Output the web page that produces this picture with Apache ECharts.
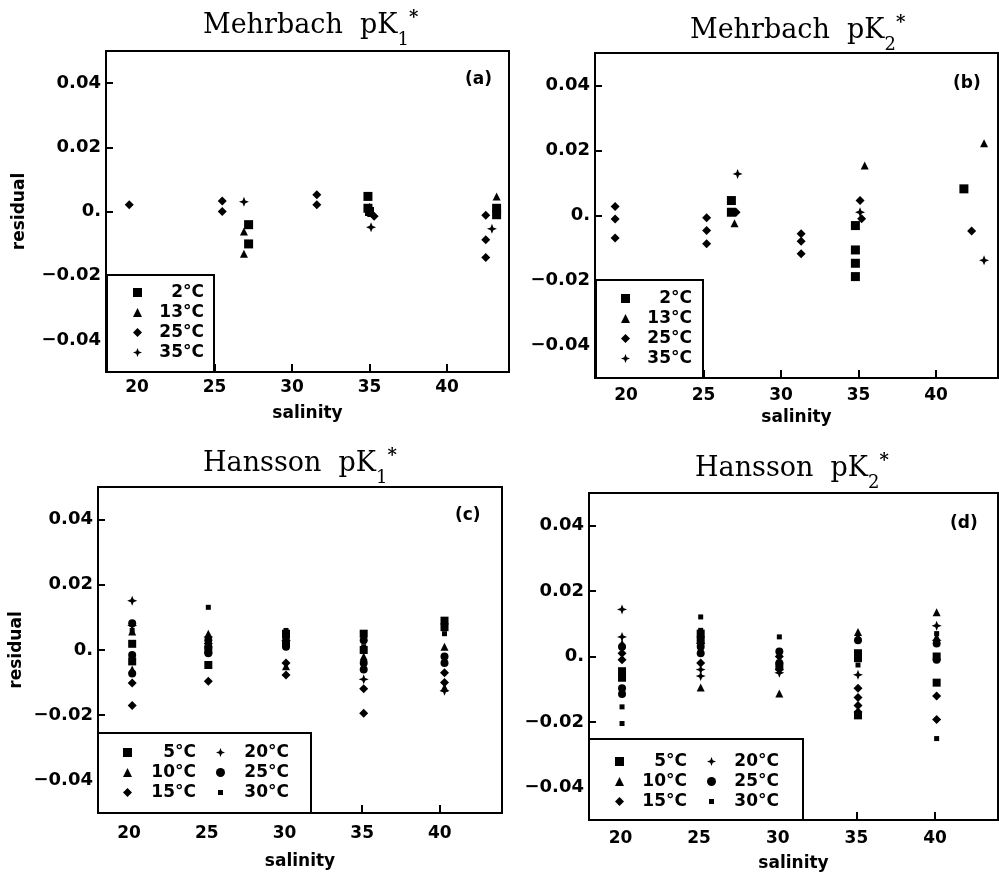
<!DOCTYPE html>
<html>
<head>
<meta charset="utf-8">
<title>Mehrbach / Hansson residuals</title>
<script src="https://cdn.jsdelivr.net/npm/echarts@6/dist/echarts.min.js"></script>
<style>
  html, body { margin: 0; padding: 0; background: #fff; }
  #chart { width: 999px; height: 885px; }
</style>
</head>
<body>
<div id="chart"></div>
<script>
// residual vs salinity
// each point is [salinity, residual]

// (a) Mehrbach pK1*
var a2C  = [[27.2, -0.0041], [27.2, -0.0101], [34.9, 0.0047], [34.9, 0.0010], [35.0, 0.0000], [43.2, 0.0010], [43.2, -0.0010]];
var a13C = [[26.9, -0.0062], [26.9, -0.0132], [35.0, 0.0015], [35.1, -0.0005], [43.2, 0.0047]];
var a25C = [[19.5, 0.0021], [25.5, 0.0033], [25.5, 0.0000], [31.6, 0.0052], [31.6, 0.0021], [35.3, -0.0015],
            [42.5, -0.0012], [42.5, -0.0088], [42.5, -0.0143]];
var a35C = [[26.9, 0.0030], [35.1, -0.0049], [42.9, -0.0054]];

// (b) Mehrbach pK2*
var b2C  = [[26.8, 0.0046], [26.8, 0.0010], [34.8, -0.0031], [34.8, -0.0106], [34.8, -0.0147], [34.8, -0.0188], [41.8, 0.0082]];
var b13C = [[27.0, -0.0024], [35.4, 0.0154], [43.1, 0.0222]];
var b25C = [[19.3, 0.0028], [19.3, -0.0011], [19.3, -0.0069], [25.2, -0.0007], [25.2, -0.0046], [25.2, -0.0087],
            [27.1, 0.0010], [31.3, -0.0056], [31.3, -0.0079], [31.3, -0.0118], [35.1, 0.0046], [35.2, -0.0010], [42.3, -0.0048]];
var b35C = [[27.2, 0.0128], [35.1, 0.0010], [43.1, -0.0138]];

// (c) Hansson pK1*
var c5C  = [[20.2, 0.0019], [20.2, -0.0035], [25.1, 0.0000], [25.1, -0.0046], [30.1, 0.0050], [30.1, 0.0020],
            [35.1, 0.0050], [35.1, 0.0000], [40.3, 0.0090], [40.3, 0.0070]];
var c10C = [[20.2, 0.0057], [20.2, -0.0060], [25.1, 0.0050], [30.1, -0.0050], [35.1, -0.0020], [40.3, 0.0010], [40.3, -0.0115]];
var c15C = [[20.2, -0.0101], [20.2, -0.0170], [25.1, -0.0096], [25.1, 0.0020], [30.1, -0.0040], [30.1, -0.0077],
            [35.1, -0.0119], [35.1, -0.0194], [40.3, -0.0070], [40.3, -0.0100]];
var c20C = [[20.2, 0.0151], [20.2, 0.0075], [25.1, 0.0040], [30.1, 0.0030], [35.1, -0.0090], [40.3, -0.0125]];
var c25C = [[20.2, 0.0082], [20.2, -0.0015], [20.2, -0.0072], [25.1, 0.0030], [25.1, 0.0010], [25.1, -0.0010],
            [30.1, 0.0040], [30.1, 0.0010], [35.1, 0.0030], [35.1, -0.0040], [35.1, -0.0060], [40.3, -0.0020], [40.3, -0.0040]];
var c30C = [[20.2, 0.0060], [20.2, -0.0030], [25.1, 0.0131], [30.1, 0.0060], [35.1, 0.0010], [40.3, 0.0080], [40.3, 0.0050]];

// (d) Hansson pK2*
var d5C  = [[20.1, -0.0045], [20.1, -0.0065], [25.1, 0.0070], [25.1, 0.0050], [30.1, -0.0030], [35.1, 0.0010],
            [35.1, -0.0005], [35.1, -0.0180], [40.1, 0.0000], [40.1, -0.0080]];
var d10C = [[20.1, 0.0040], [25.1, -0.0095], [30.1, -0.0113], [35.1, 0.0075], [35.1, 0.0060], [40.1, 0.0135], [40.1, 0.0060]];
var d15C = [[20.1, 0.0010], [20.1, -0.0010], [25.1, 0.0040], [25.1, -0.0020], [30.1, 0.0000], [30.1, -0.0040],
            [35.1, -0.0097], [35.1, -0.0125], [35.1, -0.0150], [35.1, -0.0170], [40.1, -0.0121], [40.1, -0.0193]];
var d20C = [[20.1, 0.0144], [20.1, 0.0060], [25.1, -0.0040], [25.1, -0.0060], [30.1, -0.0050], [35.1, -0.0056],
            [40.1, 0.0094], [40.1, 0.0050]];
var d25C = [[20.1, 0.0030], [20.1, -0.0097], [20.1, -0.0115], [25.1, 0.0030], [25.1, 0.0010], [30.1, 0.0015],
            [30.1, -0.0020], [35.1, 0.0050], [40.1, 0.0040], [40.1, -0.0010]];
var d30C = [[20.1, -0.0154], [20.1, -0.0205], [25.1, 0.0121], [25.1, 0.0080], [30.1, 0.0060], [35.1, -0.0026],
            [40.1, 0.0070], [40.1, -0.0251]];

// ticks and legend names
var salTicks = [20, 25, 30, 35, 40];
var resTicks = [-0.04, -0.02, 0, 0.02, 0.04];
var mehrbachTemps = ['2°C', '13°C', '25°C', '35°C'];
var hanssonTemps  = ['5°C', '10°C', '15°C', '20°C', '25°C', '30°C'];

var SANS  = 'DejaVu Sans';
var SERIF = 'DejaVu Serif';
var STAR  = 'path://M5,0 L6.4,3.6 L10,5 L6.4,6.4 L5,10 L3.6,6.4 L0,5 L3.6,3.6 Z';
// square with tiny corner specks so the legend scales it down
var SMALLSQ = 'path://M-40,-40 L-38,-40 L-40,-38 Z M140,140 L138,140 L140,138 Z M0,0 L100,0 L100,100 L0,100 Z';

var mehrbachSym = [['rect', 9], ['triangle', 8], ['diamond', 9], [STAR, 10]];
var hanssonSym  = [['rect', 8], ['triangle', 8], ['diamond', 9], [STAR, 10], ['circle', 8], ['rect', 5]];

var panels = [
    { name: 'Mehrbach  pK', sub: '1', tag: '(a)', temps: mehrbachTemps, sym: mehrbachSym, data: [a2C, a13C, a25C, a35C],
      grid: { left: 106, top: 51, width: 403, height: 321 }, titlePos: [203, 5], tagPos: [465, 70],
      xMargin: 7, xGap: 33, yName: 'residual', yGap: 78,
      legend: { left: 107, top: 275, padding: [9, 10, 11, 26], w: 57, cols: 1 } },
    { name: 'Mehrbach  pK', sub: '2', tag: '(b)', temps: mehrbachTemps, sym: mehrbachSym, data: [b2C, b13C, b25C, b35C],
      grid: { left: 595, top: 53, width: 403, height: 325 }, titlePos: [690, 10], tagPos: [953, 74],
      xMargin: 9, xGap: 31, yName: '', yGap: 0,
      legend: { left: 596, top: 280, padding: [10, 11, 11, 25], w: 57, cols: 1 } },
    { name: 'Hansson  pK', sub: '1', tag: '(c)', temps: hanssonTemps, sym: hanssonSym, data: [c5C, c10C, c15C, c20C, c25C, c30C],
      grid: { left: 98, top: 487, width: 404, height: 326 }, titlePos: [203, 443], tagPos: [455, 506],
      xMargin: 12, xGap: 40, yName: 'residual', yGap: 73,
      legend: { left: 98, top: 733, padding: [11, 5, 12, 25], w: 59, cols: 2 } },
    { name: 'Hansson  pK', sub: '2', tag: '(d)', temps: hanssonTemps, sym: hanssonSym, data: [d5C, d10C, d15C, d20C, d25C, d30C],
      grid: { left: 589, top: 493, width: 409, height: 327 }, titlePos: [695, 448], tagPos: [950, 514],
      xMargin: 10, xGap: 35, yName: '', yGap: 0,
      legend: { left: 589, top: 739, padding: [14, 7, 10, 26], w: 58, cols: 2 } }
];

function fmtRes (v) {
    if (Math.abs(v) < 1e-9) return '0.';
    return (v < 0 ? '\u2212' : '') + Math.abs(v).toFixed(2);
}

var grids = [], xAxes = [], yAxes = [], series = [], titles = [], legends = [];

panels.forEach(function (p, i) {
    grids.push(Object.assign({ show: true, borderColor: '#000', borderWidth: 2, backgroundColor: 'transparent' }, p.grid));

    xAxes.push({
        type: 'value', gridIndex: i, min: 18, max: 44,
        axisLine: { show: true, onZero: false, lineStyle: { color: '#000', width: 2 } },
        axisTick: { show: true, inside: true, length: 8, customValues: salTicks, lineStyle: { color: '#000', width: 2 } },
        axisLabel: { customValues: salTicks, margin: p.xMargin, color: '#000', fontFamily: SANS, fontWeight: 'bold', fontSize: 17 },
        splitLine: { show: false },
        name: 'salinity', nameLocation: 'middle', nameGap: p.xGap,
        nameTextStyle: { color: '#000', fontFamily: SANS, fontWeight: 'bold', fontSize: 17 }
    });

    yAxes.push({
        type: 'value', gridIndex: i, min: -0.05, max: 0.05,
        axisLine: { show: true, onZero: false, lineStyle: { color: '#000', width: 2 } },
        axisTick: { show: true, inside: true, length: 7, customValues: resTicks, lineStyle: { color: '#000', width: 2 } },
        axisLabel: { customValues: resTicks, margin: 5, formatter: fmtRes, color: '#000', fontFamily: SANS, fontWeight: 'bold', fontSize: 18 },
        splitLine: { show: false },
        name: p.yName, nameLocation: 'middle', nameGap: p.yGap,
        nameTextStyle: { color: '#000', fontFamily: SANS, fontWeight: 'bold', fontSize: 17 }
    });

    p.temps.forEach(function (t, k) {
        series.push({
            type: 'scatter', name: t, xAxisIndex: i, yAxisIndex: i,
            data: p.data[k],
            symbol: p.sym[k][0], symbolSize: p.sym[k][1],
            itemStyle: { color: '#000', opacity: 1 },
            silent: true
        });
    });

    // panel title with subscript and star
    titles.push({
        text: '{m|' + p.name + '}{s|' + p.sub + '}{u|*}',
        left: p.titlePos[0], top: p.titlePos[1], padding: 0,
        textStyle: {
            fontWeight: 'normal',
            rich: {
                m: { fontFamily: SERIF, fontWeight: 'normal', fontSize: 27, color: '#000', lineHeight: 41 },
                s: { fontFamily: SERIF, fontWeight: 'normal', fontSize: 18, color: '#000', verticalAlign: 'bottom', height: 11 },
                u: { fontFamily: SERIF, fontWeight: 'bold', fontSize: 18, color: '#000', verticalAlign: 'top', height: 26 }
            }
        }
    });
    titles.push({
        text: p.tag, left: p.tagPos[0], top: p.tagPos[1], padding: 0,
        textStyle: { fontFamily: SANS, fontWeight: 'bold', fontSize: 17, color: '#000', lineHeight: 20 }
    });

    var L = p.legend;
    var icons = p.sym.map(function (s, k) {
        var ic = s[0];
        if (L.cols === 2 && k === 5) ic = SMALLSQ;
        return { name: p.temps[k], icon: ic };
    });
    legends.push({
        data: icons,
        orient: 'vertical', left: L.left, top: L.top,
        height: L.cols === 2 ? 62 : null,
        padding: L.padding, itemGap: 3, itemWidth: 9, itemHeight: 9,
        borderColor: '#000', borderWidth: 2, backgroundColor: '#fff',
        selectedMode: false,
        formatter: function (n) { return L.cols === 2 ? '{t|' + n + '}{g|}' : '{t|' + n + '}'; },
        textStyle: {
            rich: {
                t: { width: L.w, align: 'right', fontFamily: SANS, fontWeight: 'bold', fontSize: 17, color: '#000' },
                g: { width: 17, align: 'right' }
            }
        }
    });
});

var chart = echarts.init(document.getElementById('chart'), null, { renderer: 'canvas' });
chart.setOption({
    animation: false,
    backgroundColor: '#fff',
    title: titles,
    legend: legends,
    grid: grids,
    xAxis: xAxes,
    yAxis: yAxes,
    series: series
});
window.addEventListener('resize', function () { chart.resize(); });
</script>
</body>
</html>
